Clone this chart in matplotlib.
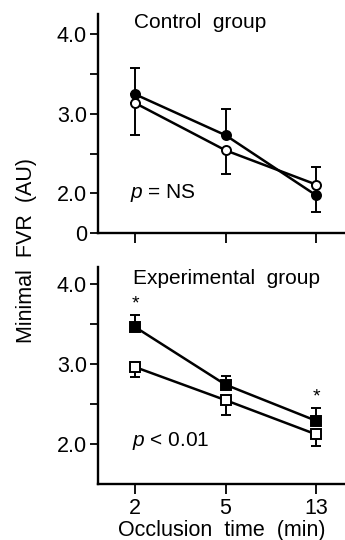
import matplotlib
matplotlib.use("Agg")
import numpy as np
import matplotlib.pyplot as plt

plt.rcParams['font.family'] = ['Liberation Sans', 'DejaVu Sans']
plt.rcParams['mathtext.fontset'] = 'custom'
plt.rcParams['mathtext.it'] = 'Liberation Sans:italic'
plt.rcParams['mathtext.rm'] = 'Liberation Sans'

# data
times = ["2", "5", "13"]

# control group
ctrl_filled = [3.245, 2.73, 1.975]
ctrl_filled_err_lo = [0.0, 0.0, 0.21]
ctrl_filled_err_hi = [0.33, 0.335, 0.0]
ctrl_open = [3.135, 2.54, 2.11]
ctrl_open_err_lo = [0.40, 0.30, 0.0]
ctrl_open_err_hi = [0.0, 0.0, 0.22]

# experimental group
exp_filled = [3.46, 2.74, 2.29]
exp_filled_err_hi = [0.15, 0.11, 0.16]
exp_open = [2.96, 2.547, 2.12]
exp_open_err_lo = [0.12, 0.18, 0.15]

signif = [0, 2]
signif_y = [3.75, 2.59]

x = np.arange(len(times))
LW = 1.8


def style(ax, ylim):
    ax.set_xlim(-0.41, 2.32)
    ax.set_ylim(*ylim)
    ax.spines['top'].set_visible(False)
    ax.spines['right'].set_visible(False)
    ax.spines['left'].set_linewidth(1.7)
    ax.spines['bottom'].set_linewidth(1.7)
    ax.set_xticks(x)
    ax.set_yticks([2.5, 3.5], minor=True)
    ax.tick_params(axis='y', which='both', direction='out', length=6, width=1.3, labelsize=15.5, pad=2)
    ax.tick_params(axis='x', which='major', direction='out', length=7, width=1.3, labelsize=15.5, pad=3)


def series(ax, y, lo, hi, marker, face):
    ax.errorbar(x, y, yerr=[lo, hi], fmt='none', ecolor='black', elinewidth=1.4,
                capsize=3.5, capthick=1.4, zorder=2)
    ax.plot(x, y, color='black', lw=LW, marker=marker, ms=6.5, mfc=face, mec='black',
            mew=1.4, zorder=3)


fig = plt.figure(figsize=(3.45, 5.4), dpi=100)
ax1 = fig.add_axes([0.284, 0.5685, 0.716, 0.4056])
ax2 = fig.add_axes([0.284, 0.1037, 0.716, 0.4019])

# top: control
series(ax1, ctrl_open, ctrl_open_err_lo, ctrl_open_err_hi, 'o', 'white')
series(ax1, ctrl_filled, ctrl_filled_err_lo, ctrl_filled_err_hi, 'o', 'black')
style(ax1, (1.5, 4.255))
ax1.set_yticks([1.5, 2.0, 3.0, 4.0])
ax1.set_yticklabels(["0", "2.0", "3.0", "4.0"])
ax1.set_xticklabels([])
ax1.text(0.72, 4.15, "Control  group", ha='center', va='center', fontsize=15)
ax1.text(-0.06, 2.0, r"$\it{p}$ = NS", ha='left', va='center', fontsize=15)

# bottom: experimental
zeros = [0.0] * len(times)
series(ax2, exp_open, exp_open_err_lo, zeros, 's', 'white')
series(ax2, exp_filled, zeros, exp_filled_err_hi, 's', 'black')
style(ax2, (1.5, 4.21))
ax2.set_yticks([2.0, 3.0, 4.0])
ax2.set_yticklabels(["2.0", "3.0", "4.0"])
ax2.set_xticklabels(times)
for i, yy in zip(signif, signif_y):
    ax2.text(x[i], yy, "*", ha='center', va='center', fontsize=14)
ax2.text(1.01, 4.06, "Experimental  group", ha='center', va='center', fontsize=15)
ax2.text(-0.03, 2.04, r"$\it{p}$ < 0.01", ha='left', va='center', fontsize=15)
ax2.set_xlabel("Occlusion  time  (min)", fontsize=15.5, labelpad=1)

fig.text(0.078, 0.537, "Minimal  FVR  (AU)", rotation=90, ha='center', va='center', fontsize=15.5)

fig.savefig("out.png", dpi=100)
